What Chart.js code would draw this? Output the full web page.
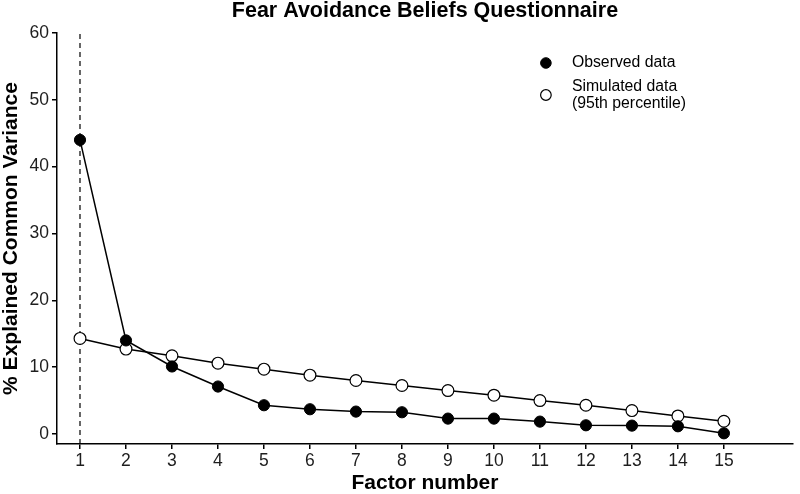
<!DOCTYPE html>
<html>
<head>
<meta charset="utf-8">
<script src="https://cdn.jsdelivr.net/npm/chart.js@4.4.0/dist/chart.umd.min.js"></script>
<style>
html, body { margin: 0; padding: 0; background: #fff; }
#wrap { width: 800px; height: 494px; }
</style>
</head>
<body>
<div id="wrap"><canvas id="chart" width="800" height="494"></canvas></div>
<script>
// values
const chartTitle = 'Fear Avoidance Beliefs Questionnaire';
const factors = [1, 2, 3, 4, 5, 6, 7, 8, 9, 10, 11, 12, 13, 14, 15];
const observed = [44.0, 14.0, 10.1, 7.1, 4.3, 3.7, 3.35, 3.25, 2.3, 2.3, 1.85, 1.3, 1.25, 1.15, 0.1];
const simulated = [14.3, 12.7, 11.7, 10.6, 9.7, 8.8, 8.0, 7.25, 6.5, 5.8, 5.0, 4.3, 3.5, 2.7, 1.9];
const yTicks = [0, 10, 20, 30, 40, 50, 60];
const retainedFactors = 1;
const legendLabels = [['Observed data'], ['Simulated data', '(95th percentile)']];

const FONT = '"Liberation Sans", Arial, sans-serif';

const toPoints = (xs, ys) => xs.map((x, i) => ({ x: x, y: ys[i] }));

// title centred on the plot panel + manual legend (ggplot style)
const decorPlugin = {
    id: 'decor',
    afterDraw(chart) {
        const ctx = chart.ctx;
        const area = chart.chartArea;
        ctx.save();
        ctx.fillStyle = '#000';
        ctx.font = 'bold 21.5px ' + FONT;
        ctx.textAlign = 'center';
        ctx.textBaseline = 'middle';
        ctx.fillText(chartTitle, (area.left + area.right) / 2, 11.5);

        const items = [chart.data.datasets[0], chart.data.datasets[1]];
        const cx = area.right - 247;
        const rows = [63, 95];
        ctx.font = '15.8px ' + FONT;
        ctx.textAlign = 'left';
        items.forEach((ds, i) => {
            ctx.beginPath();
            ctx.arc(cx, rows[i], 5.3, 0, Math.PI * 2);
            ctx.fillStyle = ds.pointBackgroundColor;
            ctx.fill();
            ctx.lineWidth = ds.pointBorderWidth;
            ctx.strokeStyle = ds.pointBorderColor;
            ctx.stroke();
            ctx.fillStyle = '#000';
            const lines = legendLabels[i];
            const lh = 16.5;
            const top = rows[i] - (lines.length - 1) * lh / 2;
            lines.forEach((t, j) => ctx.fillText(t, cx + 26, top + j * lh));
        });
        ctx.restore();
    }
};

const ctx = document.getElementById('chart').getContext('2d');
new Chart(ctx, {
    type: 'line',
    data: {
        datasets: [
            {
                label: 'Observed data',
                data: toPoints(factors, observed),
                borderColor: '#000',
                borderWidth: 1.5,
                pointRadius: 5.6,
                pointBackgroundColor: '#000',
                pointBorderColor: '#000',
                pointBorderWidth: 1,
                tension: 0,
                order: 0
            },
            {
                label: 'Simulated data (95th percentile)',
                data: toPoints(factors, simulated),
                borderColor: '#000',
                borderWidth: 1.5,
                pointRadius: 5.9,
                pointBackgroundColor: '#fff',
                pointBorderColor: '#000',
                pointBorderWidth: 1.2,
                tension: 0,
                order: 1
            },
            {
                label: 'retained',
                data: [{ x: retainedFactors, y: -1.5 }, { x: retainedFactors, y: yTicks[yTicks.length - 1] }],
                borderColor: '#000',
                borderWidth: 1.2,
                borderDash: [5, 4],
                pointRadius: 0,
                order: 2
            }
        ]
    },
    options: {
        responsive: false,
        animation: false,
        layout: { padding: { top: 33, right: 3, left: 0, bottom: 0 } },
        plugins: {
            legend: { display: false },
            title: { display: false },
            tooltip: { enabled: false }
        },
        scales: {
            x: {
                type: 'linear',
                min: 0.5,
                max: 16.5,
                afterBuildTicks: (scale) => { scale.ticks = factors.map(v => ({ value: v })); },
                afterFit: (scale) => { scale.height = 50; },
                grid: { drawOnChartArea: false, drawTicks: true, tickLength: 5, tickColor: '#000', lineWidth: 1.5 },
                border: { display: true, color: '#000', width: 1.5 },
                ticks: { color: '#1e1e1e', font: { family: FONT, size: 17.5 }, padding: 1.5, maxRotation: 0, autoSkip: false },
                title: { display: true, text: 'Factor number', color: '#000',
                         font: { family: FONT, size: 21, weight: 'bold', lineHeight: 1 }, padding: { top: 0, bottom: 0 } }
            },
            y: {
                type: 'linear',
                min: -1.5,
                max: 60,
                afterBuildTicks: (scale) => { scale.ticks = yTicks.map(v => ({ value: v })); },
                afterFit: (scale) => { scale.width = 57; },
                grid: { drawOnChartArea: false, drawTicks: true, tickLength: 5, tickColor: '#000', lineWidth: 1.5 },
                border: { display: true, color: '#000', width: 1.5 },
                ticks: { color: '#1e1e1e', font: { family: FONT, size: 17.5 }, padding: 3 },
                title: { display: true, text: '% Explained Common Variance', color: '#000',
                         font: { family: FONT, size: 21, weight: 'bold', lineHeight: 1.08 }, padding: { top: 0, bottom: 0 } }
            }
        }
    },
    plugins: [decorPlugin]
});
</script>
</body>
</html>
